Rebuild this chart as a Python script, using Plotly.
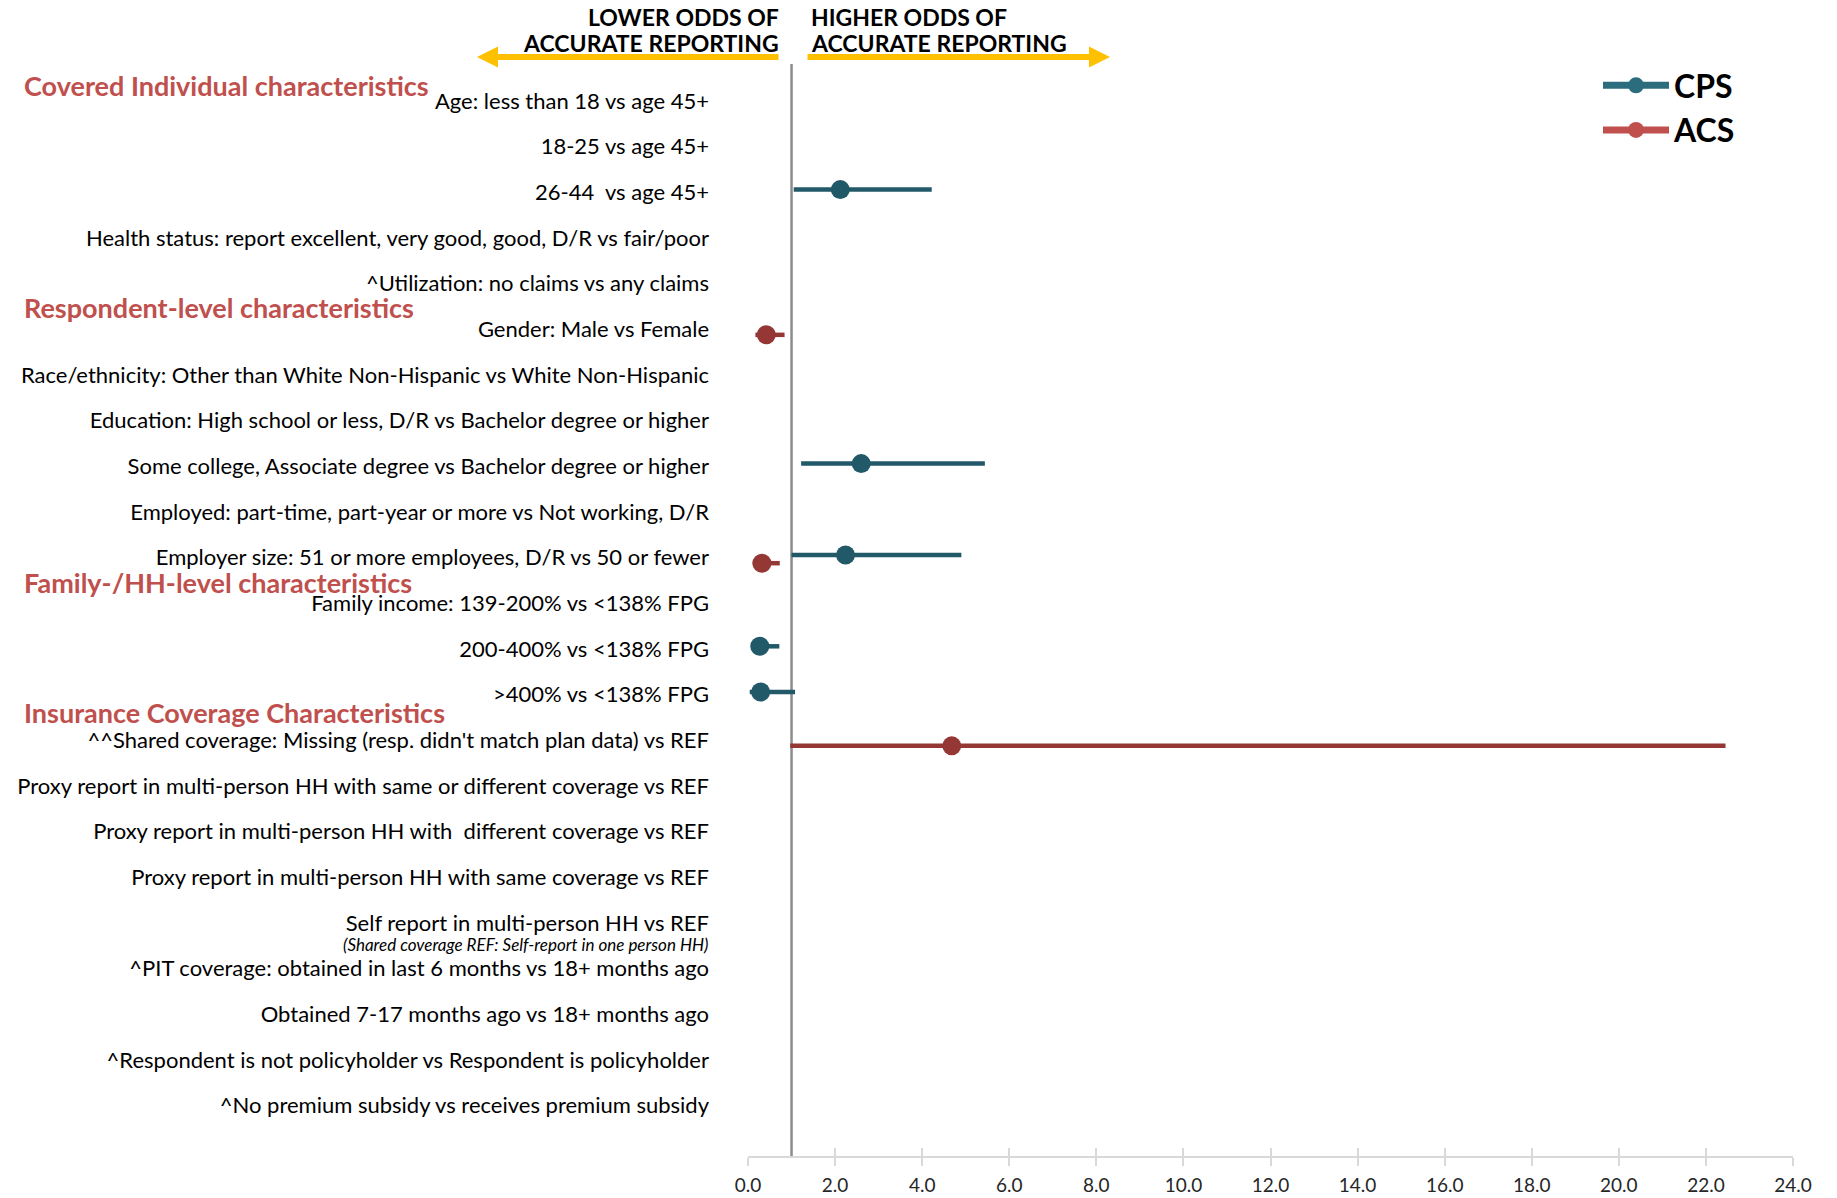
import plotly.graph_objects as go

# Row labels, top to bottom
categories = [
    "Age: less than 18 vs age 45+",
    "18-25 vs age 45+",
    "26-44  vs age 45+",
    "Health status: report excellent, very good, good, D/R vs fair/poor",
    "^Utilization: no claims vs any claims",
    "Gender: Male vs Female",
    "Race/ethnicity: Other than White Non-Hispanic vs White Non-Hispanic",
    "Education: High school or less, D/R vs Bachelor degree or higher",
    "Some college, Associate degree vs Bachelor degree or higher",
    "Employed: part-time, part-year or more vs Not working, D/R",
    "Employer size: 51 or more employees, D/R vs 50 or fewer",
    "Family income: 139-200% vs <138% FPG",
    "200-400% vs <138% FPG",
    ">400% vs <138% FPG",
    "^^Shared coverage: Missing (resp. didn't match plan data) vs REF",
    "Proxy report in multi-person HH with same or different coverage vs REF",
    "Proxy report in multi-person HH with  different coverage vs REF",
    "Proxy report in multi-person HH with same coverage vs REF",
    "Self report in multi-person HH vs REF",
    "^PIT coverage: obtained in last 6 months vs 18+ months ago",
    "Obtained 7-17 months ago vs 18+ months ago",
    "^Respondent is not policyholder vs Respondent is policyholder",
    "^No premium subsidy vs receives premium subsidy",
]

# Odds ratios with 95% CI (None = not shown)
cps_or = [None, None, 2.12, None, None, None, None, None, 2.60, None, 2.24, None, 0.27, 0.29,
          None, None, None, None, None, None, None, None, None]
cps_lo = [None, None, 1.05, None, None, None, None, None, 1.22, None, 1.00, None, 0.07, 0.04,
          None, None, None, None, None, None, None, None, None]
cps_hi = [None, None, 4.22, None, None, None, None, None, 5.44, None, 4.90, None, 0.72, 1.08,
          None, None, None, None, None, None, None, None, None]

acs_or = [None, None, None, None, None, 0.42, None, None, None, None, 0.32, None, None, None,
          4.68, None, None, None, None, None, None, None, None]
acs_lo = [None, None, None, None, None, 0.17, None, None, None, None, 0.11, None, None, None,
          0.97, None, None, None, None, None, None, None, None]
acs_hi = [None, None, None, None, None, 0.84, None, None, None, None, 0.73, None, None, None,
          22.45, None, None, None, None, None, None, None, None]

section_titles = [
    ("Covered Individual characteristics", -0.34),
    ("Respondent-level characteristics", 4.53),
    ("Family-/HH-level characteristics", 10.55),
    ("Insurance Coverage Characteristics", 13.40),
]
ref_note = "(Shared coverage REF: Self-report in one person HH)"

x_ticks = [0, 2, 4, 6, 8, 10, 12, 14, 16, 18, 20, 22, 24]

CPS_COLOR = "#215968"
ACS_COLOR = "#953735"
CPS_LEGEND = "#2B6C7D"
ACS_LEGEND = "#C0504D"
HEAD_RED = "#C0504D"
FONT = "Lato"

W, H = 1837, 1198
ML, MR, MT, MB = 748, 44, 64, 42
PW = W - ML - MR
PH = H - MT - MB


def px_x(px):
    return (px - ML) / PW


def px_y(py):
    return 1 + (MT - py) / PH


def series(vals, lo, hi, offset):
    xs, ys, plus, minus = [], [], [], []
    for i, v in enumerate(vals):
        if v is None:
            continue
        xs.append(v)
        ys.append(i + offset)
        plus.append(hi[i] - v)
        minus.append(v - lo[i])
    return xs, ys, plus, minus


fig = go.Figure()

for name, vals, lo, hi, off, col in [
    ("CPS", cps_or, cps_lo, cps_hi, -0.06, CPS_COLOR),
    ("ACS", acs_or, acs_lo, acs_hi, 0.12, ACS_COLOR),
]:
    xs, ys, plus, minus = series(vals, lo, hi, off)
    fig.add_trace(go.Scatter(
        x=xs, y=ys, mode="markers", showlegend=False, name=name,
        marker=dict(color=col, size=19),
        error_x=dict(type="data", symmetric=False, array=plus, arrayminus=minus,
                     color=col, thickness=4.5, width=0),
        hoverinfo="x+y",
    ))

# legend keys
for name, col, grp in [("CPS", CPS_LEGEND, "a"), ("ACS", ACS_LEGEND, "b")]:
    fig.add_trace(go.Scatter(
        x=[None], y=[None], mode="lines+markers", name=name, legendgroup=grp,
        line=dict(color=col, width=7), marker=dict(color=col, size=16),
    ))

# overlay axis carrying the inward half of the crossing tick marks
fig.add_trace(go.Scatter(x=[None], y=[None], xaxis="x2", showlegend=False, hoverinfo="skip"))

annotations = []
for text, yv in section_titles:
    annotations.append(dict(
        text=f"<b>{text}</b>", xref="paper", yref="y", x=px_x(22), y=yv,
        xanchor="left", yanchor="middle", showarrow=False,
        font=dict(family=FONT, size=27, color=HEAD_RED),
    ))

annotations.append(dict(
    text=f"<i>{ref_note}</i>", xref="paper", yref="y", x=px_x(710), y=18.47,
    xanchor="right", yanchor="middle", showarrow=False,
    font=dict(family=FONT, size=17, color="#000000"),
))

for line, yy in [("LOWER ODDS OF", 17), ("ACCURATE REPORTING", 43)]:
    annotations.append(dict(
        text=f"<b>{line}</b>", xref="paper", yref="paper", x=px_x(781), y=px_y(yy),
        xanchor="right", yanchor="middle", showarrow=False,
        font=dict(family=FONT, size=23, color="#000000"),
    ))
for line, yy in [("HIGHER ODDS OF", 17), ("ACCURATE REPORTING", 43)]:
    annotations.append(dict(
        text=f"<b>{line}</b>", xref="paper", yref="paper", x=px_x(809), y=px_y(yy),
        xanchor="left", yanchor="middle", showarrow=False,
        font=dict(family=FONT, size=23, color="#000000"),
    ))

# direction arrows
annotations.append(dict(
    text="", xref="paper", yref="paper", x=px_x(477), y=px_y(57),
    ax=303, ay=0, axref="pixel", ayref="pixel", showarrow=True,
    arrowhead=2, arrowsize=0.7, arrowwidth=6, arrowcolor="#FFC000",
))
annotations.append(dict(
    text="", xref="paper", yref="paper", x=px_x(1110), y=px_y(57),
    ax=-304, ay=0, axref="pixel", ayref="pixel", showarrow=True,
    arrowhead=2, arrowsize=0.7, arrowwidth=6, arrowcolor="#FFC000",
))

fig.update_layout(
    width=W, height=H,
    margin=dict(l=ML, r=MR, t=MT, b=MB, autoexpand=False),
    paper_bgcolor="white", plot_bgcolor="white",
    font=dict(family=FONT, color="#000000"),
    showlegend=True,
    legend=dict(
        x=px_x(1598), y=px_y(58), xanchor="left", yanchor="top",
        font=dict(family=FONT, size=32, color="#000000", weight="bold"),
        traceorder="grouped", tracegroupgap=0, itemwidth=66,
        bgcolor="rgba(0,0,0,0)",
    ),
    xaxis=dict(
        range=[0, 24], tickvals=x_ticks, tickformat=".1f",
        showgrid=False, zeroline=False,
        showline=True, linecolor="#D9D9D9", linewidth=2,
        ticks="outside", ticklen=8, tickwidth=2, tickcolor="#D9D9D9",
        tickfont=dict(family=FONT, size=19, color="#262626"),
        ticklabelstandoff=3,
    ),
    xaxis2=dict(
        overlaying="x", matches="x", anchor="y", side="bottom",
        tickvals=x_ticks, ticks="inside", ticklen=8, tickwidth=2, tickcolor="#D9D9D9",
        showticklabels=False, showgrid=False, zeroline=False, showline=False,
    ),
    yaxis=dict(
        range=[23.1, -0.81], tickvals=list(range(len(categories))), ticktext=categories,
        showgrid=False, zeroline=False, showline=False, ticks="",
        tickfont=dict(family=FONT, size=22, color="#000000"),
        ticklabelstandoff=38,
    ),
    annotations=annotations,
    shapes=[dict(type="line", xref="x", yref="paper", x0=1, x1=1, y0=0, y1=1,
                 line=dict(color="#8C8C8C", width=2.5), layer="below")],
)

fig.write_html("out.html")
